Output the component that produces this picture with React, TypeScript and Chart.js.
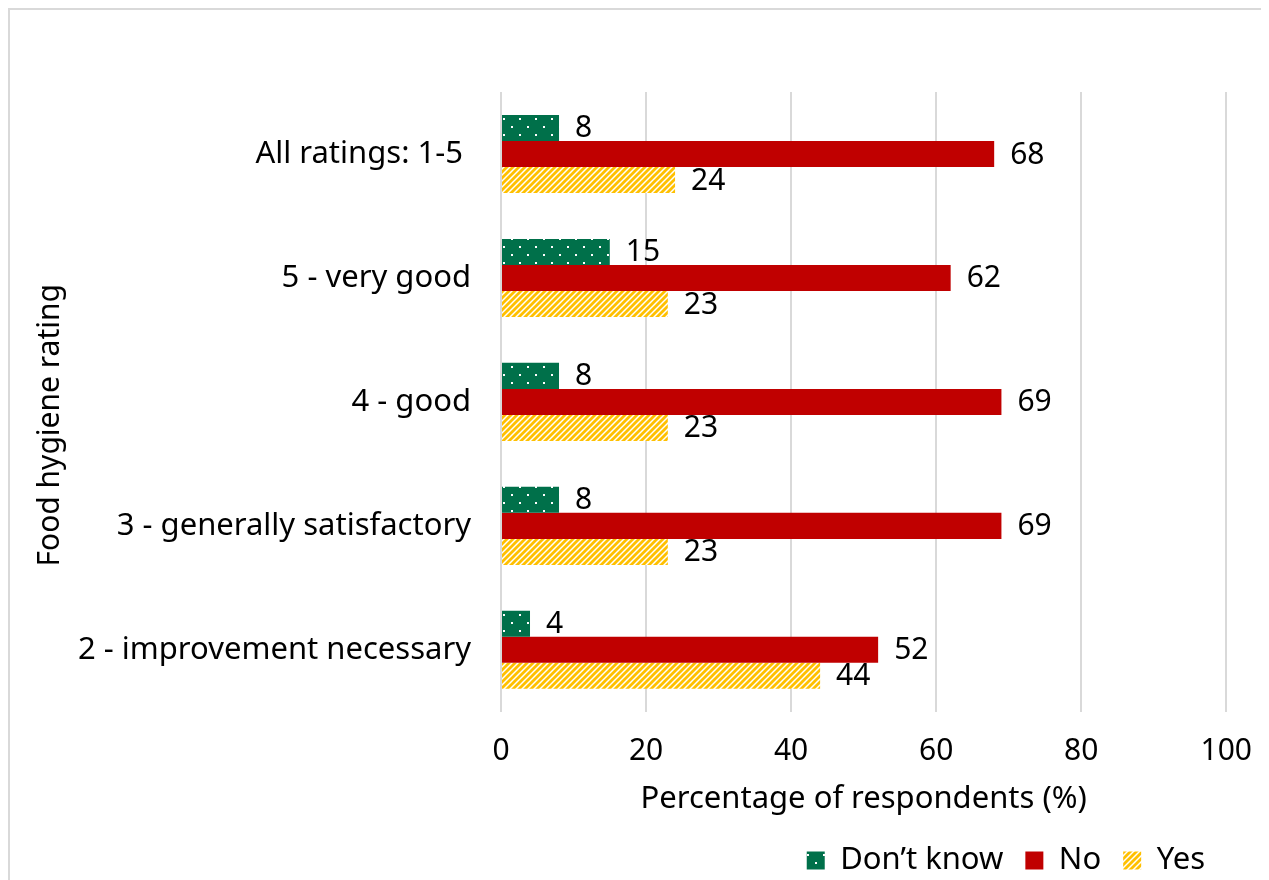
import React, { useEffect, useRef } from "react";
import { Chart, registerables } from "chart.js";

Chart.register(...registerables);

const categories = [
  "All ratings: 1-5 ",
  "5 - very good",
  "4 - good",
  "3 - generally satisfactory",
  "2 - improvement necessary",
];
const dontKnowValues = [8, 15, 8, 8, 4];
const noValues = [68, 62, 69, 69, 52];
const yesValues = [24, 23, 23, 23, 44];
const xTickValues = [0, 20, 40, 60, 80, 100];

const FONT = "'Noto Sans', sans-serif";
const GREEN = "#00704A";
const RED = "#C00000";
const YELLOW = "#FFC000";

function dotPattern(): CanvasPattern | string {
  const c = document.createElement("canvas");
  c.width = 16;
  c.height = 16;
  const ctx = c.getContext("2d");
  if (!ctx) return GREEN;
  ctx.fillStyle = GREEN;
  ctx.fillRect(0, 0, 16, 16);
  ctx.fillStyle = "#ffffff";
  ctx.fillRect(5, 4, 2, 2);
  ctx.fillRect(13, 12, 2, 2);
  return ctx.createPattern(c, "repeat") || GREEN;
}

function stripePattern(): CanvasPattern | string {
  const s = 6;
  const c = document.createElement("canvas");
  c.width = s;
  c.height = s;
  const ctx = c.getContext("2d");
  if (!ctx) return YELLOW;
  ctx.fillStyle = "#ffffff";
  ctx.fillRect(0, 0, s, s);
  ctx.strokeStyle = YELLOW;
  ctx.lineWidth = 2.8;
  ctx.beginPath();
  ctx.moveTo(-s, 2 * s);
  ctx.lineTo(2 * s, -s);
  ctx.moveTo(-2 * s, 2 * s);
  ctx.lineTo(s, -s);
  ctx.moveTo(0, 2 * s);
  ctx.lineTo(3 * s, -s);
  ctx.stroke();
  return ctx.createPattern(c, "repeat") || YELLOW;
}

const valueLabels = {
  id: "valueLabels",
  afterDatasetsDraw(chart: any) {
    const ctx = chart.ctx;
    ctx.save();
    ctx.font = `30px ${FONT}`;
    ctx.fillStyle = "#000000";
    ctx.textAlign = "left";
    ctx.textBaseline = "middle";
    chart.data.datasets.forEach((ds: any, di: number) => {
      const meta = chart.getDatasetMeta(di);
      if (meta.hidden) return;
      meta.data.forEach((bar: any, i: number) => {
        ctx.fillText(String(ds.data[i]), bar.x + 16, bar.y + 1);
      });
    });
    ctx.restore();
  },
};

export default function App() {
  const ref = useRef<HTMLCanvasElement | null>(null);

  useEffect(() => {
    if (!ref.current) return;
    const chart = new Chart(ref.current, {
      type: "bar",
      data: {
        labels: categories,
        datasets: [
          { label: "Don\u2019t know", data: dontKnowValues, backgroundColor: dotPattern() as any, borderWidth: 0 },
          { label: "No", data: noValues, backgroundColor: RED, borderWidth: 0 },
          { label: "Yes", data: yesValues, backgroundColor: stripePattern() as any, borderWidth: 0 },
        ],
      },
      options: {
        indexAxis: "y",
        responsive: false,
        animation: false,
        layout: { padding: { top: 82, right: 47, left: 0, bottom: 0 } },
        datasets: { bar: { categoryPercentage: 0.63, barPercentage: 1 } },
        scales: {
          x: {
            min: 0,
            max: 100,
            afterBuildTicks(scale: any) {
              scale.ticks = xTickValues.map((v) => ({ value: v }));
            },
            grid: { color: "#d9d9d9", lineWidth: 2, drawTicks: false },
            border: { display: false },
            ticks: { padding: 22, color: "#000", font: { family: FONT, size: 30 } },
            title: {
              display: true,
              text: "Percentage of respondents (%)",
              color: "#000",
              font: { family: FONT, size: 31 },
              padding: { top: -11, bottom: 5 },
            },
          },
          y: {
            afterFit(scale: any) {
              scale.width = 491;
            },
            grid: { display: false, drawTicks: false },
            border: { display: false },
            ticks: { padding: 30, color: "#000", font: { family: FONT, size: 31 } },
            title: {
              display: true,
              text: "Food hygiene rating      ",
              color: "#000",
              font: { family: FONT, size: 30 },
              padding: { top: 22, bottom: 0 },
            },
          },
        },
        plugins: {
          legend: {
            position: "bottom",
            align: "end",
            labels: {
              color: "#000",
              font: { family: FONT, size: 31 },
              boxWidth: 18,
              boxHeight: 18,
              padding: 22,
            },
          },
          tooltip: { enabled: false },
        },
      },
      plugins: [valueLabels],
    });
    return () => chart.destroy();
  }, []);

  return (
    <div style={{ width: 1261, height: 872, overflow: "hidden" }}>
      <div
        style={{
          width: 1400,
          height: 900,
          border: "2px solid #d9d9d9",
          boxSizing: "border-box",
          background: "#fff",
        }}
      >
        <canvas ref={ref} width={1264} height={876} style={{ display: "block" }} />
      </div>
    </div>
  );
}
